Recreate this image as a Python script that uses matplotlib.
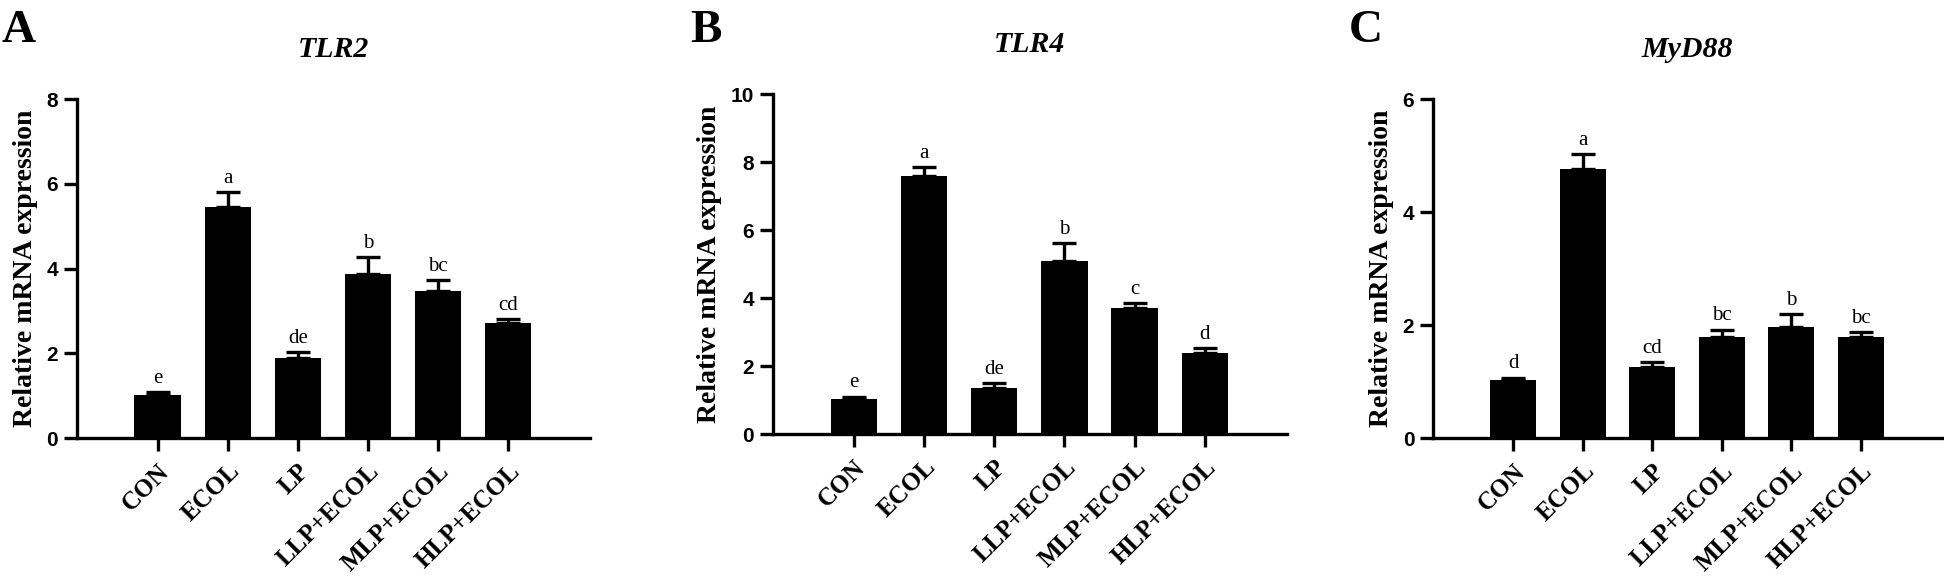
import matplotlib
matplotlib.use("Agg")
import matplotlib.pyplot as plt

groups = ["CON", "ECOL", "LP", "LLP+ECOL", "MLP+ECOL", "HLP+ECOL"]

# TLR2
tlr2_mean = [1.01, 5.45, 1.90, 3.86, 3.47, 2.71]
tlr2_err = [0.07, 0.36, 0.12, 0.41, 0.25, 0.10]
tlr2_sig = ["e", "a", "de", "b", "bc", "cd"]

# TLR4
tlr4_mean = [1.03, 7.60, 1.35, 5.08, 3.71, 2.37]
tlr4_err = [0.07, 0.25, 0.14, 0.53, 0.15, 0.15]
tlr4_sig = ["e", "a", "de", "b", "c", "d"]

# MyD88
myd88_mean = [1.02, 4.77, 1.25, 1.78, 1.97, 1.79]
myd88_err = [0.05, 0.25, 0.09, 0.14, 0.23, 0.09]
myd88_sig = ["d", "a", "cd", "bc", "b", "bc"]

serif = "Liberation Serif"
sans = "Liberation Sans"

fig = plt.figure(figsize=(19.44, 5.81), dpi=100)

panels = [
    ("A", "TLR2", tlr2_mean, tlr2_err, tlr2_sig, 8, [0, 2, 4, 6, 8],
     [0.0396, 0.2461, 0.2639, 0.5835], 0.001),
    ("B", "TLR4", tlr4_mean, tlr4_err, tlr4_sig, 10, [0, 2, 4, 6, 8, 10],
     [0.3976, 0.2530, 0.2644, 0.5850], 0.355),
    ("C", "MyD88", myd88_mean, myd88_err, myd88_sig, 6, [0, 2, 4, 6],
     [0.7372, 0.2461, 0.2618, 0.5835], 0.694),
]

for letter, title, mean, err, sig, ymax, yticks, rect, lx in panels:
    ax = fig.add_axes(rect)
    x = list(range(len(groups)))
    ax.bar(x, mean, width=0.66, color="black", zorder=2)
    ax.errorbar(x, mean, yerr=[[0] * len(err), err], fmt="none", ecolor="black",
                elinewidth=2.4, capsize=8.5, capthick=2.4, zorder=1)
    for xi, m, e, s in zip(x, mean, err, sig):
        ax.annotate(s, (xi, m + e), xytext=(0, 3), textcoords="offset points",
                    ha="center", va="bottom", fontsize=15, family=serif)

    ax.set_xlim(-1.15, 6.17)
    ax.set_ylim(0, ymax)
    ax.set_yticks(yticks)
    ax.set_xticks(x)
    ax.set_xticklabels(groups, rotation=45, ha="right", rotation_mode="anchor",
                       fontsize=18, family=serif, fontweight="bold")
    for lab in ax.get_yticklabels():
        lab.set_family(sans)
        lab.set_fontweight("bold")
        lab.set_fontsize(15)

    for side in ["top", "right"]:
        ax.spines[side].set_visible(False)
    for side in ["left", "bottom"]:
        ax.spines[side].set_linewidth(2.4)
    ax.tick_params(axis="y", width=2.4, length=9.5, pad=4)
    ax.tick_params(axis="x", width=2.4, length=9.5, pad=6)

    ax.set_ylabel("Relative mRNA expression", fontsize=20, family=serif,
                  fontweight="bold", labelpad=6)
    ax.set_title(title, fontsize=21.5, family=serif, fontweight="bold",
                 style="italic", pad=30)

    fig.text(lx, 0.982, letter, fontsize=34, family=serif, fontweight="bold",
             ha="left", va="top")

fig.savefig("out.png", dpi=100)
